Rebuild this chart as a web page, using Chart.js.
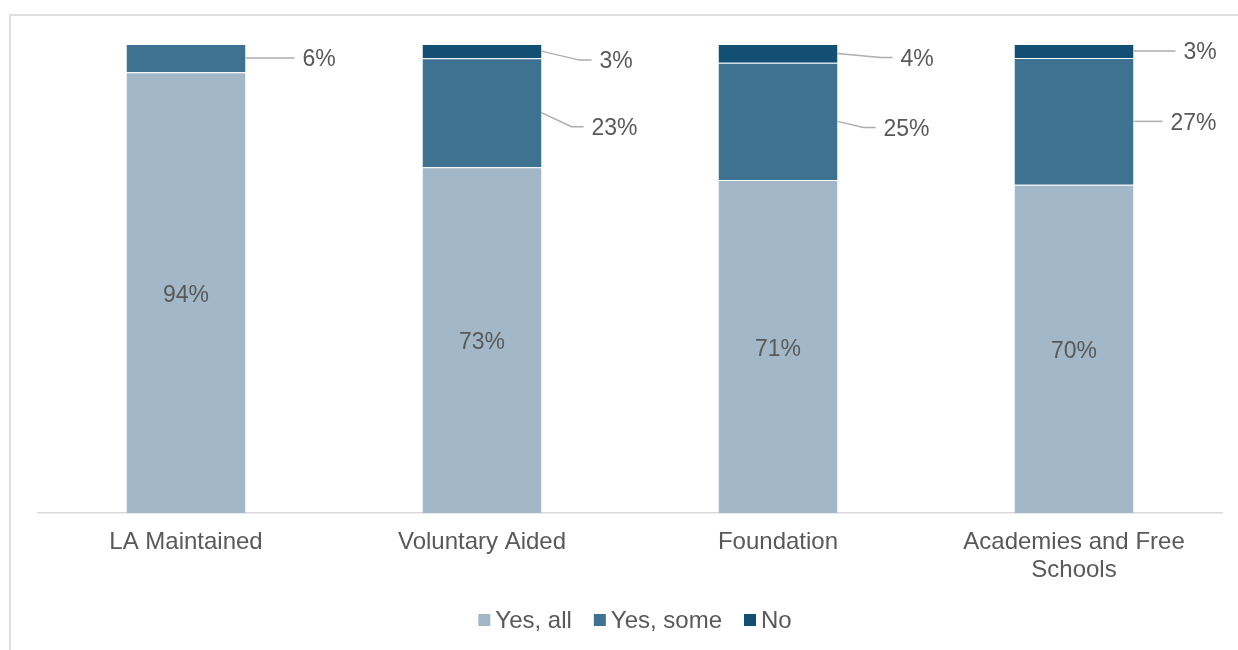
<!DOCTYPE html>
<html>
<head>
<meta charset="utf-8">
<title>School types</title>
<script src="https://cdn.jsdelivr.net/npm/chart.js@4"></script>
<style>
  html, body { margin: 0; padding: 0; background: #fff; overflow: hidden; }
  #frame { position: absolute; left: 9px; top: 14px; width: 1250px; height: 660px; border: 2px solid #dedede; box-sizing: border-box; }
  #chart { position: absolute; left: 0; top: 0; }
</style>
</head>
<body>
<div id="frame"></div>
<canvas id="chart" width="1238" height="650"></canvas>
<script>
const categories = ['LA Maintained', 'Voluntary Aided', 'Foundation', ['Academies and Free', 'Schools']];
const seriesNames = ['Yes, all', 'Yes, some', 'No'];
const yesAll = [94, 73, 71, 70];
const yesSome = [6, 23, 25, 27];
const no = [0, 3, 4, 3];

const colors = ['#a2b8c8', '#3f7190', '#124f73'];
const textColor = '#595959';
const font = '"Liberation Sans", Arial, sans-serif';

// where the outside labels sit, relative to the bar's right edge / segment middle
const outsideLabelPos = {
  1: [{ dx: 57, dy: 0 }, { dx: 50, dy: 14 }, { dx: 46, dy: 6 }, { dx: 37, dy: 0 }],
  2: [null, { dx: 58, dy: 9 }, { dx: 63, dy: 4 }, { dx: 50, dy: 0 }]
};

const raw = [yesAll, yesSome, no];
const totals = categories.map((_, i) => yesAll[i] + yesSome[i] + no[i]);
// 100% stacked: each column is shown as shares of its own total
const shares = raw.map(arr => arr.map((v, i) => v / totals[i] * 100));

const segmentLabels = {
  id: 'segmentLabels',
  afterDatasetsDraw(chart) {
    const ctx = chart.ctx;
    ctx.save();
    ctx.font = '23px ' + font;
    ctx.fillStyle = textColor;
    ctx.textBaseline = 'middle';
    chart.data.datasets.forEach((ds, d) => {
      chart.getDatasetMeta(d).data.forEach((bar, i) => {
        const value = raw[d][i];
        if (!value) return;
        const midY = (bar.y + bar.base) / 2;
        if (d === 0) {
          ctx.textAlign = 'center';
          ctx.fillText(value + '%', bar.x, midY + 3);
          return;
        }
        const pos = outsideLabelPos[d][i];
        const x0 = bar.x + bar.width / 2;
        const tx = x0 + pos.dx;
        const ty = midY + pos.dy;
        ctx.strokeStyle = '#adadad';
        ctx.lineWidth = 1.5;
        ctx.beginPath();
        ctx.moveTo(x0, midY);
        if (pos.dy !== 0) ctx.lineTo(tx - 20, ty);
        ctx.lineTo(tx - 8, ty);
        ctx.stroke();
        ctx.textAlign = 'left';
        ctx.fillText(value + '%', tx, ty + 2);
      });
    });
    ctx.restore();
  }
};

const bottomLegend = {
  id: 'bottomLegend',
  afterDraw(chart) {
    const ctx = chart.ctx;
    const box = 12, gap = 5, spacing = 22, y = 620;
    ctx.save();
    ctx.font = '24px ' + font;
    ctx.textBaseline = 'middle';
    ctx.textAlign = 'left';
    const widths = seriesNames.map(n => box + gap + ctx.measureText(n).width);
    const total = widths.reduce((a, b) => a + b, 0) + spacing * (seriesNames.length - 1);
    let x = 635 - total / 2;
    seriesNames.forEach((name, k) => {
      ctx.fillStyle = colors[k];
      ctx.fillRect(x, y - box / 2, box, box);
      ctx.fillStyle = textColor;
      ctx.fillText(name, x + box + gap, y + 1);
      x += widths[k] + spacing;
    });
    ctx.restore();
  }
};

new Chart(document.getElementById('chart'), {
  type: 'bar',
  data: {
    labels: categories,
    datasets: seriesNames.map((name, k) => ({
      label: name,
      data: shares[k],
      backgroundColor: colors[k],
      borderColor: 'rgba(255,255,255,0.15)',
      borderWidth: { top: 1, left: 0, right: 0, bottom: 0 },
      borderSkipped: false,
      barPercentage: 0.402,
      categoryPercentage: 1
    }))
  },
  options: {
    responsive: false,
    animation: false,
    layout: { padding: { left: 38, right: 16, top: 44, bottom: 0 } },
    plugins: { legend: { display: false }, tooltip: { enabled: false } },
    scales: {
      x: {
        stacked: true,
        grid: { display: false, drawTicks: false },
        border: { display: true, color: '#d9d9d9', width: 1.5 },
        ticks: { color: textColor, font: { family: font, size: 24, lineHeight: 1.17 }, padding: 15, maxRotation: 0 },
        afterFit(scale) { scale.height = 137; }
      },
      y: {
        stacked: true,
        display: false,
        min: 0,
        max: 100
      }
    }
  },
  plugins: [segmentLabels, bottomLegend]
});
</script>
</body>
</html>
